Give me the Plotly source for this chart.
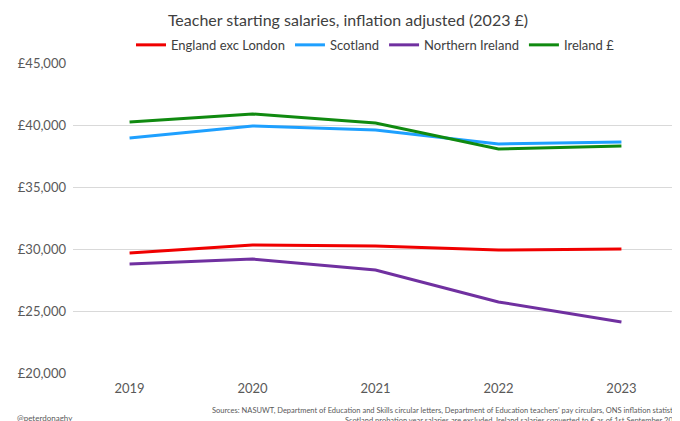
import plotly.graph_objects as go

years = ["2019", "2020", "2021", "2022", "2023"]
england = [29680, 30320, 30240, 29920, 30000]
scotland = [38950, 39920, 39600, 38470, 38630]
ni = [28790, 29190, 28310, 25730, 24110]
ireland = [40240, 40890, 40160, 38060, 38310]

series = [("England exc London", england, "#f00000"),
          ("Scotland", scotland, "#1ea0ff"),
          ("Northern Ireland", ni, "#7030a0"),
          ("Ireland £", ireland, "#108a10")]

fig = go.Figure()
for name, vals, col in series:
    fig.add_trace(go.Scatter(x=years, y=vals, name=name, mode="lines",
                             line=dict(color=col, width=3)))

fig.update_layout(
    width=680, height=421, plot_bgcolor="white", paper_bgcolor="white",
    font=dict(family="Lato, Open Sans, sans-serif", color="#595959", size=13),
    title=dict(text="Teacher starting salaries, inflation adjusted (2023 £)",
               x=0.5, y=0.985, xanchor="center", yanchor="top",
               font=dict(size=16, color="#404040")),
    legend=dict(orientation="h", x=0.5, xanchor="center", y=1.01, yanchor="bottom",
                font=dict(size=13, color="#404040"), itemwidth=30, tracegroupgap=0),
    margin=dict(l=60, r=10, t=55, b=56),
    showlegend=True,
)
fig.update_xaxes(showgrid=False, showline=False, ticks="", tickfont=dict(size=13),
                 range=[-0.46, 4.46], ticklabelstandoff=6)
fig.update_yaxes(range=[20000, 45000], dtick=5000, tickprefix="£", tickformat=",",
                 gridcolor="#d9d9d9", zeroline=False, tickfont=dict(size=13),
                 ticklabelstandoff=6)
fig.add_annotation(text="@peterdonaghy", x=0, y=0, xref="paper", yref="paper",
                   xshift=-58, yshift=-38, showarrow=False, xanchor="left",
                   yanchor="top", font=dict(size=8, color="#595959"))
fig.add_annotation(text="Sources: NASUWT, Department of Education and Skills circular letters, Department of Education teachers' pay circulars, ONS inflation statistics<br>Scotland probation year salaries are excluded, Ireland salaries converted to € as of 1st September 2023",
                   x=1, y=0, xref="paper", yref="paper", xshift=5, yshift=-31,
                   showarrow=False, xanchor="right", yanchor="top", align="right",
                   font=dict(size=7.5, color="#595959"))
fig.write_html("out.html")
